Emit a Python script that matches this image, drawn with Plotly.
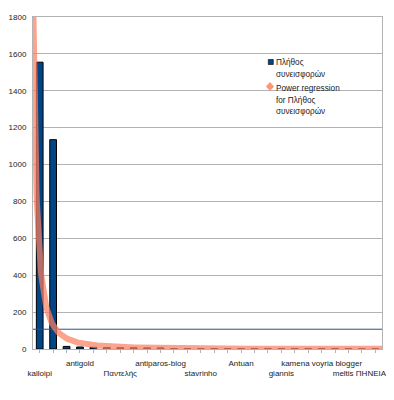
import numpy as np
import plotly.graph_objects as go

# ---- data ----
counts = [1555, 1135, 14, 11, 9, 8, 7, 7, 6, 6,
          2, 2, 2, 2, 2, 2, 2, 2, 2, 2, 2, 2, 2, 2, 1, 1]
shown_labels = {1: "kalloipi", 4: "antigold", 7: "Παντελής", 10: "antiparos-blog",
                13: "stavrinho", 16: "Antuan", 19: "giannis",
                22: "kamena voyria blogger", 25: "meltis ΠΗΝΕΙΑΣ"}
series_name = "Πλήθος συνεισφορών"
y_ticks = [0, 200, 400, 600, 800, 1000, 1200, 1400, 1600, 1800]

positions = list(range(1, len(counts) + 1))
tick_text = []
for i, p in enumerate(positions):
    lab = shown_labels.get(p, "")
    # staggered labels: alternate rows
    if lab and (list(shown_labels).index(p) % 2 == 0):
        lab = "<br>" + lab
    tick_text.append(lab)

# power regression y = a * x^b (least squares in log-log space)
lx = np.log(np.array(positions, dtype=float))
ly = np.log(np.array(counts, dtype=float))
b, ln_a = np.polyfit(lx, ly, 1)
xs = np.linspace(0.5, len(counts) + 0.5, 800)
ys = np.exp(ln_a) * xs ** b
mean_val = float(np.mean(counts))

NAVY = "#004586"
SALMON = "rgb(252,128,100)"
GRID = "#b3b3b3"
FONT = "Liberation Sans, Arial, sans-serif"

fig = go.Figure()
fig.add_trace(go.Bar(x=positions, y=counts, width=0.5, name=series_name,
                     marker=dict(color=NAVY, line=dict(color="black", width=1)),
                     showlegend=False))
fig.add_trace(go.Scatter(x=[0.5, len(counts) + 0.5], y=[mean_val, mean_val], mode="lines",
                         line=dict(color="#2a4f8f", width=1), showlegend=False))
fig.add_trace(go.Scatter(x=xs, y=ys, mode="lines", opacity=0.72,
                         line=dict(color=SALMON, width=6), showlegend=False))

# page has an 8px body margin; work in window pixels and offset
OFF = 8
WIN_W, WIN_H = 394, 400
L, R, T, B = 33, 382, 17, 349          # plot area in window pixels
W, H = WIN_W - OFF, WIN_H - OFF


def px(xp):
    return (xp - L) / (R - L)


def py(yp):
    return (B - yp) / (B - T)


shapes = [
    dict(type="rect", xref="paper", yref="paper", x0=px(263), x1=px(349), y0=py(118), y1=py(50),
         fillcolor="white", line=dict(width=0), layer="between"),
    dict(type="rect", xref="paper", yref="paper", x0=px(268.3), x1=px(273.3), y0=py(64.5), y1=py(59.5),
         fillcolor=NAVY, line=dict(color="black", width=0.6), layer="above"),
    dict(type="path", xref="paper", yref="paper", layer="above",
         path=f"M {px(270)} {py(82)} L {px(274)} {py(86.5)} L {px(270)} {py(91)} L {px(266)} {py(86.5)} Z",
         fillcolor="rgb(253,150,120)", line=dict(width=0)),
]

legend_lines = [("Πλήθος", 62.7), ("συνεισφορών", 74), ("Power regression", 88.3),
                ("for Πλήθος", 100), ("συνεισφορών", 111.3)]
annotations = [dict(xref="paper", yref="paper", x=px(274.3), y=py(yc), text=t, showarrow=False,
                    xanchor="left", yanchor="middle", font=dict(size=8.2, color="#222", family=FONT))
               for t, yc in legend_lines]

fig.update_layout(
    width=W, height=H,
    margin=dict(l=L - OFF, r=WIN_W - R, t=T - OFF, b=WIN_H - B, autoexpand=False),
    paper_bgcolor="white", plot_bgcolor="white",
    font=dict(family=FONT, size=8, color="#222"),
    bargap=0.5,
    shapes=shapes, annotations=annotations,
    showlegend=False,
)
fig.update_xaxes(range=[0.5, len(counts) + 0.5], tickmode="array", tickvals=positions,
                 ticktext=tick_text, tickangle=0, ticks="outside", ticklen=3, tickcolor=GRID,
                 ticklabelstandoff=3,
                 showgrid=False, showline=True, linecolor=GRID, mirror=True, zeroline=False,
                 automargin=False, tickfont=dict(size=8, color="#222"))
fig.update_yaxes(range=[0, 1800], tickmode="array", tickvals=y_ticks, showgrid=True,
                 gridcolor=GRID, gridwidth=1, showline=True, linecolor=GRID, mirror=True,
                 zeroline=False, ticks="outside", ticklen=4, tickcolor="rgba(0,0,0,0)",
                 automargin=False, tickfont=dict(size=8, color="#222"))

fig.write_html("out.html")
